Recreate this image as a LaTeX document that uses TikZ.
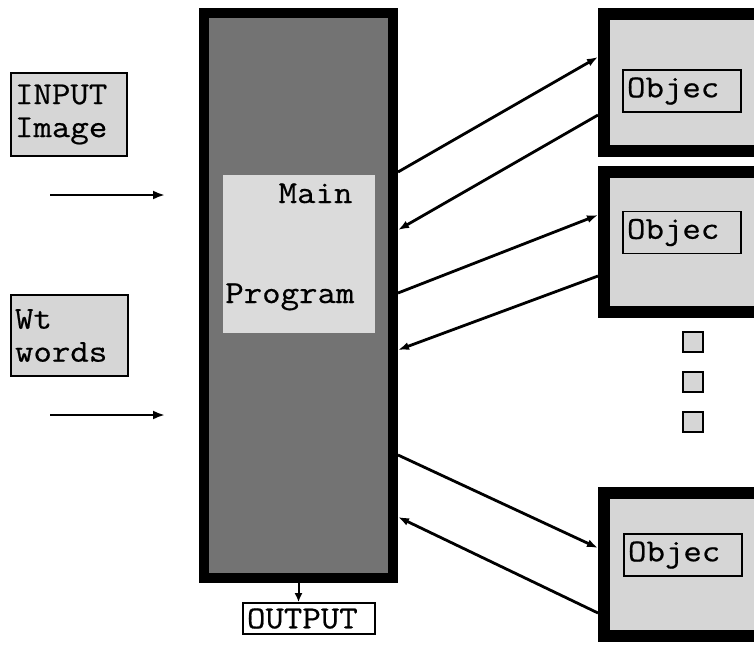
\documentclass[tikz,border=0pt]{standalone}
\usepackage{fontspec}
\setmonofont{Latin Modern Mono}[FakeStretch=1.12, FakeBold=0.6]
\usetikzlibrary{arrows.meta}
\begin{document}
\begin{tikzpicture}[x=1pt,y=-1pt,
  txt/.style={font=\ttfamily\fontsize{32}{33}\selectfont},
  lightbox/.style={draw=black, line width=1.8pt, fill=black!16, inner sep=0pt},
  heavybox/.style={draw=black, line width=12pt, fill=black!16, inner sep=0pt},
  tag/.style={lightbox, txt, align=left, text width=110pt, inner xsep=4pt, minimum height=42pt},
  dotbox/.style={draw=black, line width=2pt, fill=black!16, minimum size=20pt, inner sep=0pt},
  link/.style={line width=2.8pt, -{Latex[length=11pt,width=8pt]}},
]
\clip (0,0) rectangle (754,645);
\fill[white] (0,0) rectangle (754,645);

% main program column
\node[draw=black, line width=10pt, fill=black!55, minimum width=189pt,
      minimum height=565pt, inner sep=0pt] (main) at (298.5,295.5) {};
\node[fill=black!14, minimum width=152pt, minimum height=158pt, inner sep=0pt] (prog) at (299,254) {};
\node[txt, anchor=base east] (mainlbl) at (356,203) {Main};
\node[txt, anchor=base east] (proglbl) at (358,303) {Program};

% inputs
\node[lightbox, txt, align=left, text width=108pt, inner xsep=4pt, minimum height=83pt]
  (inimg) at (69,114.5) {INPUT\\Image};
\node[lightbox, txt, align=left, text width=109pt, inner xsep=4pt, minimum height=81pt]
  (inwt) at (69.5,335.5) {Wt\\words};
\coordinate (a1s) at (50,195);
\coordinate (a1e) at (165,195);
\coordinate (a2s) at (50,415);
\coordinate (a2e) at (165,415);
\draw[line width=2.4pt, -{Latex[length=12pt,width=9pt]}] (a1s) -- (a1e);
\draw[line width=2.4pt, -{Latex[length=12pt,width=9pt]}] (a2s) -- (a2e);

% output
\node[draw=black, line width=1.8pt, fill=white, txt, align=left, text width=124pt,
      inner xsep=4pt, inner ysep=0pt, minimum height=31pt] (out) at (309,618.5) {OUTPUT};
\draw[line width=2pt, -{Latex[length=9pt,width=8pt]}] (main.south) -- (main.south |- out.north);

% objects
\node[heavybox, minimum width=196pt, minimum height=137pt] (obj1) at (702,82.5) {};
\node[heavybox, minimum width=196pt, minimum height=140pt] (obj2) at (702,242) {};
\node[heavybox, minimum width=196pt, minimum height=143pt] (obj3) at (702,564.5) {};
\node[tag] (t1) at (682,91) {Objec};
\node[tag] (t2) at (682,232.5) {Objec};
\node[tag] (t3) at (683,555) {Objec};

% ellipsis squares
\node[dotbox] (d1) at (692.5,342) {};
\node[dotbox] (d2) at (692.5,381.5) {};
\node[dotbox] (d3) at (692.5,421.5) {};

% message links
\draw[link] (main.east |- 0,172) -- (obj1.west |- 0,57);
\draw[link] (obj1.west |- 0,115) -- (main.east |- 0,230);
\draw[link] (main.east |- 0,293) -- (obj2.west |- 0,215);
\draw[link] (obj2.west |- 0,276) -- (main.east |- 0,350);
\draw[link] (main.east |- 0,455) -- (obj3.west |- 0,548);
\draw[link] (obj3.west |- 0,613) -- (main.east |- 0,517);
\end{tikzpicture}
\end{document}
